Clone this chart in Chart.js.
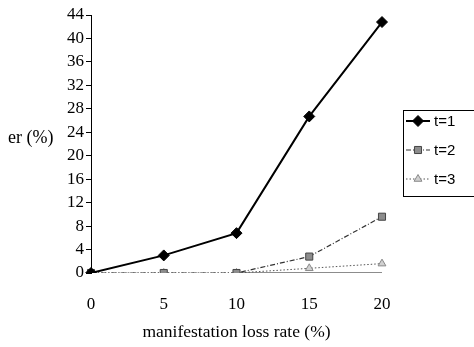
<!DOCTYPE html>
<html>
<head>
<meta charset="utf-8">
<script src="https://cdn.jsdelivr.net/npm/chart.js@4/dist/chart.umd.min.js"></script>
<style>
  html, body { margin: 0; padding: 0; background: #fff; }
  #wrap { width: 474px; height: 347px; }
</style>
</head>
<body>
<div id="wrap"><canvas id="c" width="474" height="347"></canvas></div>
<script>
// ---- data ----
const lossRates = ['0', '5', '10', '15', '20'];
const t1 = [0, 3, 6.8, 26.7, 42.8];
const t2 = [0, 0, 0, 2.8, 9.6];
const t3 = [0, 0, 0, 0.8, 1.6];
const baseline = [null, null, 0, 0, 0];   // grey segment along the bottom
const seriesNames = ['t=1', 't=2', 't=3'];
const yTicks = { min: 0, max: 44, step: 4 };

const SERIF = '"Liberation Serif", "Times New Roman", serif';
const SANS = '"Liberation Sans", Arial, sans-serif';

// horizontal y title + boxed legend with line samples
const extras = {
  id: 'extras',
  afterDraw(chart) {
    const ctx = chart.ctx;
    ctx.save();
    ctx.fillStyle = '#000';
    ctx.font = '18px ' + SERIF;
    ctx.textAlign = 'left';
    ctx.textBaseline = 'middle';
    ctx.fillText('er (%)', 8, 138);

    // legend box
    const bx = 403, by = 110, bw = 80, bh = 86;
    ctx.strokeStyle = '#000';
    ctx.lineWidth = 1;
    ctx.strokeRect(bx + 0.5, by + 0.5, bw, bh);
    ctx.font = '15px ' + SANS;
    seriesNames.forEach((name, i) => {
      const ds = chart.data.datasets[i];
      const y = by + 11 + i * 29;
      ctx.save();
      ctx.strokeStyle = ds.borderColor;
      ctx.lineWidth = ds.borderWidth;
      ctx.setLineDash(ds.borderDash || []);
      ctx.beginPath();
      ctx.moveTo(bx + 3, y);
      ctx.lineTo(bx + 27, y);
      ctx.stroke();
      ctx.restore();
      ctx.save();
      ctx.fillStyle = ds.pointBackgroundColor;
      ctx.strokeStyle = ds.pointBorderColor;
      ctx.lineWidth = ds.pointBorderWidth || 1;
      Chart.helpers.drawPoint(ctx, {
        pointStyle: ds.pointStyle, radius: ds.pointRadius, borderWidth: ds.pointBorderWidth || 1, rotation: 0,
      }, bx + 15, y);
      ctx.restore();
      ctx.fillStyle = '#000';
      ctx.fillText(name, bx + 31, y + 1);
    });
    ctx.restore();
  },
};

const chart = new Chart(document.getElementById('c'), {
  type: 'line',
  data: {
    labels: lossRates,
    datasets: [
      { label: seriesNames[0], data: t1, borderColor: '#000', backgroundColor: '#000', borderWidth: 2,
        pointStyle: 'rectRot', pointRadius: 5.5, pointBorderColor: '#000', pointBackgroundColor: '#000', pointBorderWidth: 1 },
      { label: seriesNames[1], data: t2, borderColor: '#333', backgroundColor: '#888', borderWidth: 1.2, borderDash: [5, 2, 1, 2],
        pointStyle: 'rect', pointRadius: 5, pointBorderColor: '#444', pointBackgroundColor: '#8c8c8c', pointBorderWidth: 1 },
      { label: seriesNames[2], data: t3, borderColor: '#555', backgroundColor: '#bbb', borderWidth: 1, borderDash: [1.5, 2],
        pointStyle: 'triangle', pointRadius: 4.5, pointBorderColor: '#888', pointBackgroundColor: '#d0d0d0', pointBorderWidth: 1 },
      { label: 'base', data: baseline, borderColor: '#666', borderWidth: 1.5, pointRadius: 0, spanGaps: false },
    ],
  },
  options: {
    responsive: false,
    animation: false,
    events: [],
    layout: { padding: { top: 15, right: 92, left: 0, bottom: 0 } },
    plugins: { legend: { display: false }, tooltip: { enabled: false } },
    scales: {
      x: {
        offset: false,
        grid: { display: false, drawTicks: false },
        border: { display: false },
        ticks: { color: '#000', font: { family: SERIF, size: 17 }, padding: 21, maxRotation: 0 },
        title: { display: true, text: 'manifestation loss rate (%)', color: '#000',
          font: { family: SERIF, size: 17.5 }, padding: { top: 10 } },
        afterFit: (s) => { s.height = 74; },
      },
      y: {
        min: yTicks.min, max: yTicks.max,
        grid: { drawOnChartArea: false, tickLength: 5, color: '#000' },
        border: { display: true, color: '#000', width: 1 },
        ticks: { stepSize: yTicks.step, color: '#000', font: { family: SERIF, size: 17 }, padding: 2 },
        afterFit: (s) => { s.width = 91; },
      },
    },
  },
  plugins: [extras],
});
</script>
</body>
</html>
